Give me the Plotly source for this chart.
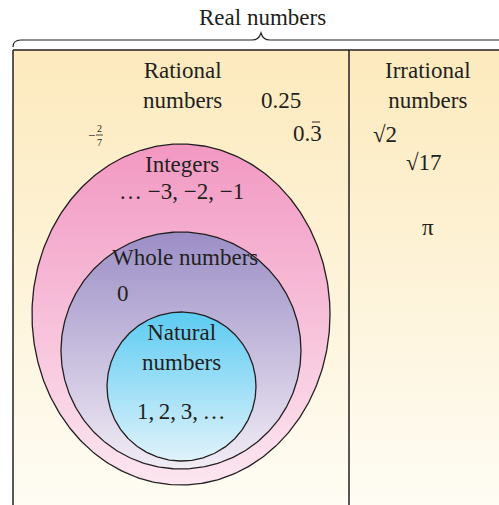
import numpy as np
import plotly.graph_objects as go

# ---- data (labels and members of each set) ----
title_label = "Real numbers"
set_names = ["Integers", "Whole numbers", "Natural<br>numbers"]
set_members = ["… −3, −2, −1", "0", "1,\u20092,\u20093,\u2009…"]
rational_label = "Rational<br>numbers"
rational_members = ["0.25", "0.3"]
irrational_label = "Irrational<br>numbers"
irrational_members = ["√2", "√17", "π"]

# ---- layout geometry (pixel space) ----
W, H = 499, 505
box_left, box_top, divider = 13, 50, 349
ellipses = [  # cx, cy, rx, ry
    (181, 314.5, 149, 170.5),
    (181, 350.5, 120, 118.5),
    (181.5, 386.5, 74.5, 74.5),
]
fills = [
    [[0, "#F298C2"], [1, "#FCE6F0"]],
    [[0, "#9C8EC6"], [1, "#F1ECF5"]],
    [[0, "#5CCBF2"], [1, "#E0F3FB"]],
]
bg_scale = [[0, "#FDEABD"], [1, "#FEFCF4"]]
FONT = "Liberation Serif, Times New Roman, serif"
INK = "#231F20"
FS = 23

fig = go.Figure()

for x0, x1 in [(box_left, divider), (divider, W + 5)]:
    fig.add_trace(go.Scatter(
        x=[x0, x1, x1, x0, x0], y=[box_top, box_top, H + 5, H + 5, box_top],
        mode="lines", line=dict(width=0), fill="toself",
        fillgradient=dict(type="vertical", colorscale=bg_scale, start=box_top, stop=H),
        hoverinfo="skip", showlegend=False))

t = np.linspace(0, 2 * np.pi, 400)
for (cx, cy, rx, ry), cs in zip(ellipses, fills):
    fig.add_trace(go.Scatter(
        x=cx + rx * np.cos(t), y=cy + ry * np.sin(t),
        mode="lines", line=dict(color=INK, width=1.3), fill="toself",
        fillgradient=dict(type="vertical", colorscale=cs, start=cy - ry, stop=cy + ry),
        hoverinfo="skip", showlegend=False))

shapes = [
    dict(type="line", x0=box_left, y0=box_top, x1=box_left, y1=H + 5, line=dict(color=INK, width=1.5)),
    dict(type="line", x0=box_left, y0=box_top, x1=W + 5, y1=box_top, line=dict(color=INK, width=1.5)),
    dict(type="line", x0=divider, y0=box_top, x1=divider, y1=H + 5, line=dict(color=INK, width=1.5)),
    dict(type="path",
         path="M 13 47 Q 13 40 21 40 L 252 40 Q 259 40 261 33 Q 263 40 270 40 L 505 40",
         line=dict(color=INK, width=1.2)),
    dict(type="line", x0=96, y0=135, x1=103, y1=135, line=dict(color=INK, width=0.8)),
    dict(type="line", x0=312, y0=122, x1=320, y1=122, line=dict(color=INK, width=1)),
]

ann = []
def txt(x, y, s, size=FS):
    ann.append(dict(x=x, y=y, text=s, showarrow=False, xanchor="center", yanchor="middle",
                    font=dict(family=FONT, size=size, color=INK)))

txt(262, 17, title_label)
txt(182, 85, rational_label)
txt(281, 100, rational_members[0])
txt(307, 133, rational_members[1])
txt(428, 85, irrational_label)
txt(385, 134, irrational_members[0])
txt(424, 162, irrational_members[1])
txt(428, 227, irrational_members[2])
txt(91, 135, "−", 13)
txt(99.5, 128, "2", 10)
txt(99.5, 142, "7", 10)
txt(182, 164, set_names[0])
txt(181, 191, set_members[0])
txt(185, 257, set_names[1])
txt(123, 293, set_members[1])
txt(181, 347, set_names[2])
txt(181, 411, set_members[2])

fig.update_layout(
    width=W, height=H, margin=dict(l=0, r=0, t=0, b=0),
    paper_bgcolor="white", plot_bgcolor="white",
    xaxis=dict(range=[0, W], visible=False, fixedrange=True),
    yaxis=dict(range=[H, 0], visible=False, fixedrange=True),
    shapes=shapes, annotations=ann, showlegend=False,
)
fig.write_html("out.html", config={"displayModeBar": False},
               post_script="document.body.style.margin='0';document.body.style.overflow='hidden';")
